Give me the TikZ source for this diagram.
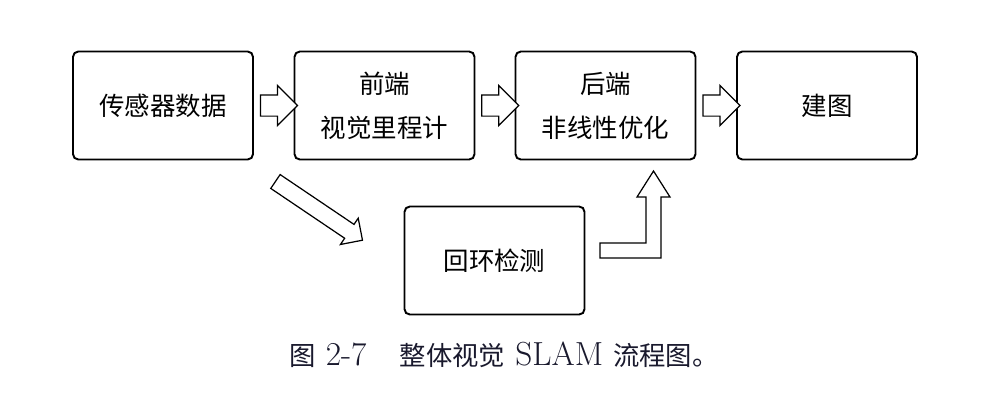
\documentclass[tikz,border=0pt]{standalone}
\usepackage{fontspec}
\usepackage{tikz}
\usetikzlibrary{arrows.meta,positioning,calc,shapes.arrows}
\newfontfamily\cjk{Noto Sans CJK SC}
\newcommand{\capcjk}[1]{{\cjk\fontsize{15pt}{16pt}\selectfont #1}}
\definecolor{captiondark}{RGB}{25,25,45}

\tikzset{
  stage/.style={draw,line width=1.1pt,rounded corners=3pt,minimum width=3.6cm,minimum height=2.16cm,
    align=center,font=\cjk\fontsize{14.5pt}{25pt}\selectfont,inner sep=0pt,outer sep=0pt},
  hollowarrow/.style={single arrow,draw,line width=0.7pt,fill=white,inner xsep=0pt,inner ysep=0.2cm,
    single arrow head extend=0.19cm,minimum height=0.74cm,
    shape border uses incircle=false},
}

\begin{document}
\begin{tikzpicture}[x=0.02cm,y=-0.02cm]
\useasboundingbox (0,0) rectangle (999,414);
% upper row
\node[stage] (sensor) at (163,105.5) {传感器数据};
\node[stage] (frontend) at (384.5,105.5) {前端\\视觉里程计};
\node[stage] (backend) at (605.5,105.5) {后端\\非线性优化};
\node[stage] (mapping) at (827,105.5) {建图};
% loop closure
\node[stage] (loop) at (494.5,260.5) {回环检测};

% block arrows
\node[hollowarrow] (a1) at ($(sensor.east)!0.5!(frontend.west)$) {};
\node[hollowarrow] (a2) at ($(frontend.east)!0.5!(backend.west)$) {};
\node[hollowarrow] (a3) at ($(backend.east)!0.5!(mapping.west)$) {};
\node[hollowarrow,rotate=-34,minimum height=2.1cm,inner ysep=0.155cm,single arrow head extend=0.15cm] (a4) at (315.5,208.5) {};
\draw[line width=0.7pt,line join=miter] (600,243) -- (646,243) -- (646,197) -- (637,197) -- (653.5,171)
  -- (670,197) -- (661,197) -- (661,258) -- (600,258) -- cycle;

% caption
\node[text=captiondark,font=\fontsize{19pt}{20pt}\selectfont] (caption) at (504,355)
  {\capcjk{图}\ 2-7\quad\capcjk{整体视觉}\ SLAM\ \capcjk{流程图。}};
\end{tikzpicture}
\end{document}
